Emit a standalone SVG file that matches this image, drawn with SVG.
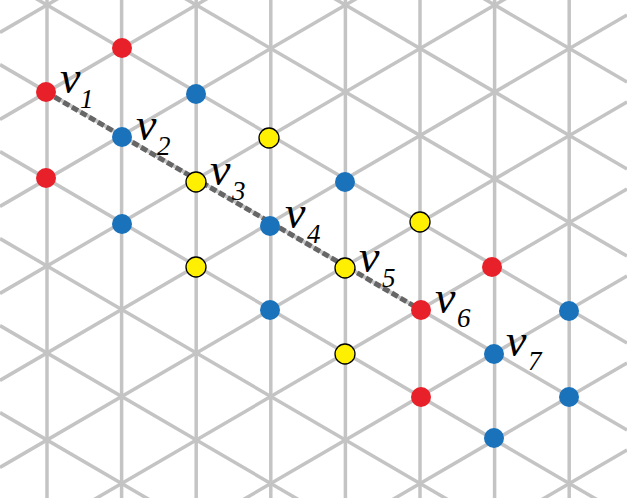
<svg xmlns="http://www.w3.org/2000/svg" width="627" height="498" viewBox="0 0 627 498">
<style>
.g line{stroke:#c4c4c4;stroke-width:3.5}
.r{fill:#e8202a}.b{fill:#1a72bb}.y{fill:#ffef00;stroke:#000;stroke-width:1.3}
text{font-family:"Liberation Serif",serif;font-style:italic;fill:#000}
.v{font-size:46px}.s{font-size:27px}
</style>
<rect width="627" height="498" fill="#fff"/>
<g id="lattice" class="g">
<line x1="47" y1="0" x2="47" y2="498"/><line x1="121.6" y1="0" x2="121.6" y2="498"/><line x1="196.2" y1="0" x2="196.2" y2="498"/><line x1="270.8" y1="0" x2="270.8" y2="498"/><line x1="345.4" y1="0" x2="345.4" y2="498"/><line x1="420" y1="0" x2="420" y2="498"/><line x1="494.6" y1="0" x2="494.6" y2="498"/><line x1="569.2" y1="0" x2="569.2" y2="498"/>
<line x1="0" y1="-370.4" x2="627" y2="-4.9"/><line x1="0" y1="-283.4" x2="627" y2="82.1"/><line x1="0" y1="-196.4" x2="627" y2="169.1"/><line x1="0" y1="-109.4" x2="627" y2="256.1"/><line x1="0" y1="-22.4" x2="627" y2="343.1"/><line x1="0" y1="64.6" x2="627" y2="430.1"/><line x1="0" y1="151.6" x2="627" y2="517.1"/><line x1="0" y1="238.6" x2="627" y2="604.1"/><line x1="0" y1="325.6" x2="627" y2="691.1"/><line x1="0" y1="412.6" x2="627" y2="778.1"/>
<line x1="0" y1="32.4" x2="627" y2="-333.1"/><line x1="0" y1="119.4" x2="627" y2="-246.1"/><line x1="0" y1="206.4" x2="627" y2="-159.1"/><line x1="0" y1="293.4" x2="627" y2="-72.1"/><line x1="0" y1="380.4" x2="627" y2="14.9"/><line x1="0" y1="467.4" x2="627" y2="101.9"/><line x1="0" y1="554.4" x2="627" y2="188.9"/><line x1="0" y1="641.4" x2="627" y2="275.9"/><line x1="0" y1="728.4" x2="627" y2="362.9"/><line x1="0" y1="815.4" x2="627" y2="449.9"/>
</g>
<g id="connectors">
<line x1="46" y1="92" x2="421" y2="310" stroke="#666" stroke-width="5" stroke-dasharray="7,3"/>
</g>
<g id="nodes">
<circle class="r" cx="122" cy="48" r="10"/><circle class="r" cx="46" cy="92" r="10"/><circle class="r" cx="46" cy="178" r="10"/><circle class="r" cx="492" cy="267" r="10"/><circle class="r" cx="421" cy="310" r="10"/><circle class="r" cx="421" cy="397" r="10"/>
<circle class="b" cx="196" cy="94" r="10"/><circle class="b" cx="122" cy="137" r="10"/><circle class="b" cx="122" cy="224" r="10"/><circle class="b" cx="345" cy="182" r="10"/><circle class="b" cx="270" cy="226" r="10"/><circle class="b" cx="270" cy="310" r="10"/><circle class="b" cx="569" cy="311" r="10"/><circle class="b" cx="494" cy="354" r="10"/><circle class="b" cx="569" cy="397" r="10"/><circle class="b" cx="494" cy="438" r="10"/>
<circle class="y" cx="269" cy="138" r="10"/><circle class="y" cx="196" cy="182" r="10"/><circle class="y" cx="196" cy="267" r="10"/><circle class="y" cx="420" cy="222" r="10"/><circle class="y" cx="345" cy="268" r="10"/><circle class="y" cx="345" cy="354" r="10"/>
</g>
<g id="labels">
<text class="v" x="60" y="93">v</text><text class="s" x="80" y="108">1</text>
<text class="v" x="136" y="140">v</text><text class="s" x="157" y="155">2</text>
<text class="v" x="210" y="185">v</text><text class="s" x="232" y="200">3</text>
<text class="v" x="285" y="228">v</text><text class="s" x="307" y="243">4</text>
<text class="v" x="359" y="272">v</text><text class="s" x="382" y="287">5</text>
<text class="v" x="435" y="313">v</text><text class="s" x="457" y="327">6</text>
<text class="v" x="506" y="356">v</text><text class="s" x="528" y="370">7</text>
</g>
</svg>
